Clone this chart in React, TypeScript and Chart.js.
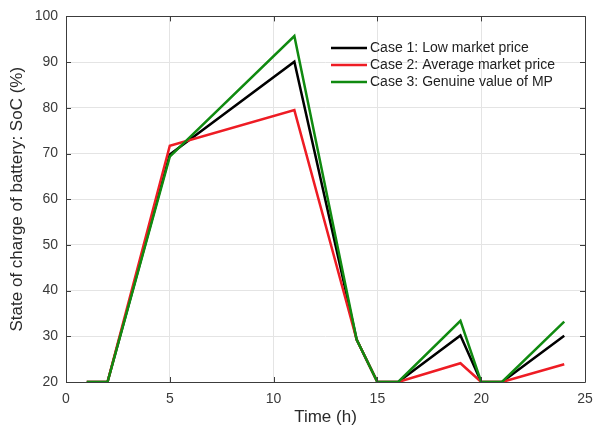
import React, { useEffect, useRef } from "react";
import { Chart, registerables } from "chart.js";

Chart.register(...registerables);

const hours = [1, 2, 5, 11, 14, 15, 16, 19, 20, 21, 24];
const case1Values = [20, 20, 69.8, 90.1, 29.3, 20, 20, 30.2, 20, 20, 30.1];
const case2Values = [20, 20, 71.7, 79.5, 29.3, 20, 20, 24.1, 20, 20, 23.9];
const case3Values = [20, 20, 69.3, 95.7, 29.3, 20, 20, 33.4, 20, 20, 33.2];
const seriesLabels = [
  "Case 1: Low market price",
  "Case 2: Average market price",
  "Case 3: Genuine value of MP",
];
const seriesColors = ["#000000", "#ee1c24", "#108a10"];
const xTicks = [0, 5, 10, 15, 20, 25];
const yTicks = [20, 30, 40, 50, 60, 70, 80, 90, 100];

const FONT = "'Liberation Sans', Arial, sans-serif";

const boxPlugin = {
  id: "boxPlugin",
  afterDatasetsDraw(chart: any) {
    const { ctx, chartArea, scales } = chart;
    const { left, right, top, bottom } = chartArea;
    ctx.save();
    ctx.strokeStyle = "#3c3c3c";
    ctx.lineWidth = 1;
    ctx.beginPath();
    ctx.rect(Math.round(left) + 0.5, Math.round(top) + 0.5, Math.round(right - left), Math.round(bottom - top));
    ctx.stroke();
    const tl = 5;
    ctx.beginPath();
    xTicks.forEach((v) => {
      const x = Math.round(scales.x.getPixelForValue(v)) + 0.5;
      ctx.moveTo(x, bottom);
      ctx.lineTo(x, bottom - tl);
      ctx.moveTo(x, top);
      ctx.lineTo(x, top + tl);
    });
    yTicks.forEach((v) => {
      const y = Math.round(scales.y.getPixelForValue(v)) + 0.5;
      ctx.moveTo(left, y);
      ctx.lineTo(left + tl, y);
      ctx.moveTo(right, y);
      ctx.lineTo(right - tl, y);
    });
    ctx.stroke();

    // legend (inside, top right, no box)
    const rowY = [48, 65, 82];
    const lx0 = 331;
    const lx1 = 367;
    ctx.font = `14px ${FONT}`;
    ctx.textBaseline = "middle";
    ctx.textAlign = "left";
    seriesLabels.forEach((lab, i) => {
      ctx.strokeStyle = seriesColors[i];
      ctx.lineWidth = 2.5;
      ctx.beginPath();
      ctx.moveTo(lx0, rowY[i]);
      ctx.lineTo(lx1, rowY[i]);
      ctx.stroke();
      ctx.fillStyle = "#1e1e1e";
      ctx.fillText(lab, lx1 + 3, rowY[i] + 0.5);
    });
    ctx.restore();
  },
};

function toPoints(vals: number[]) {
  return hours.map((h, i) => ({ x: h, y: vals[i] }));
}

export default function App() {
  const ref = useRef<HTMLCanvasElement | null>(null);
  useEffect(() => {
    document.body.style.margin = "0";
    const canvas = ref.current;
    if (!canvas) return;
    const allVals = [case1Values, case2Values, case3Values];
    const chart = new Chart(canvas, {
      type: "line",
      data: {
        datasets: allVals.map((vals, i) => ({
          label: seriesLabels[i],
          data: toPoints(vals),
          borderColor: seriesColors[i],
          backgroundColor: seriesColors[i],
          borderWidth: 2.5,
          pointRadius: 0,
          tension: 0,
          fill: false,
          order: 2 - i,
        })),
      },
      options: {
        responsive: false,
        animation: false,
        devicePixelRatio: 1,
        layout: { padding: { top: 14, right: 0, left: 0, bottom: 0 } },
        plugins: {
          legend: { display: false },
          tooltip: { enabled: false },
        },
        scales: {
          x: {
            type: "linear",
            min: 0,
            max: 25,
            afterBuildTicks: (s: any) => {
              s.ticks = xTicks.map((v) => ({ value: v }));
            },
            afterFit: (s: any) => {
              s.height = 50;
              s.paddingLeft = 0;
              s.paddingRight = 8;
            },
            grid: { color: "#e4e4e4", drawTicks: false, lineWidth: 1 },
            border: { display: false },
            ticks: {
              padding: 9,
              color: "#3a3a3a",
              font: { family: FONT, size: 14 },
              maxRotation: 0,
            },
            title: {
              display: true,
              text: "Time (h)",
              color: "#2a2a2a",
              font: { family: FONT, size: 17 },
              padding: { top: 0, bottom: 4 },
            },
          },
          y: {
            type: "linear",
            min: 20,
            max: 100,
            afterBuildTicks: (s: any) => {
              s.ticks = yTicks.map((v) => ({ value: v }));
            },
            afterFit: (s: any) => {
              s.width = 66;
            },
            grid: { color: "#e4e4e4", drawTicks: false, lineWidth: 1 },
            border: { display: false },
            ticks: {
              padding: 8,
              color: "#3a3a3a",
              font: { family: FONT, size: 14 },
            },
            title: {
              display: true,
              text: "State of charge of battery: SoC (%)",
              color: "#2a2a2a",
              font: { family: FONT, size: 17 },
              padding: { top: 7, bottom: 0 },
            },
          },
        },
      },
      plugins: [boxPlugin],
    } as any);
    return () => chart.destroy();
  }, []);
  return (
    <div style={{ position: "absolute", left: 0, top: 0, width: 593, height: 432, background: "#fff" }}>
      <canvas ref={ref} width={593} height={432} style={{ display: "block", width: 593, height: 432 }} />
    </div>
  );
}
